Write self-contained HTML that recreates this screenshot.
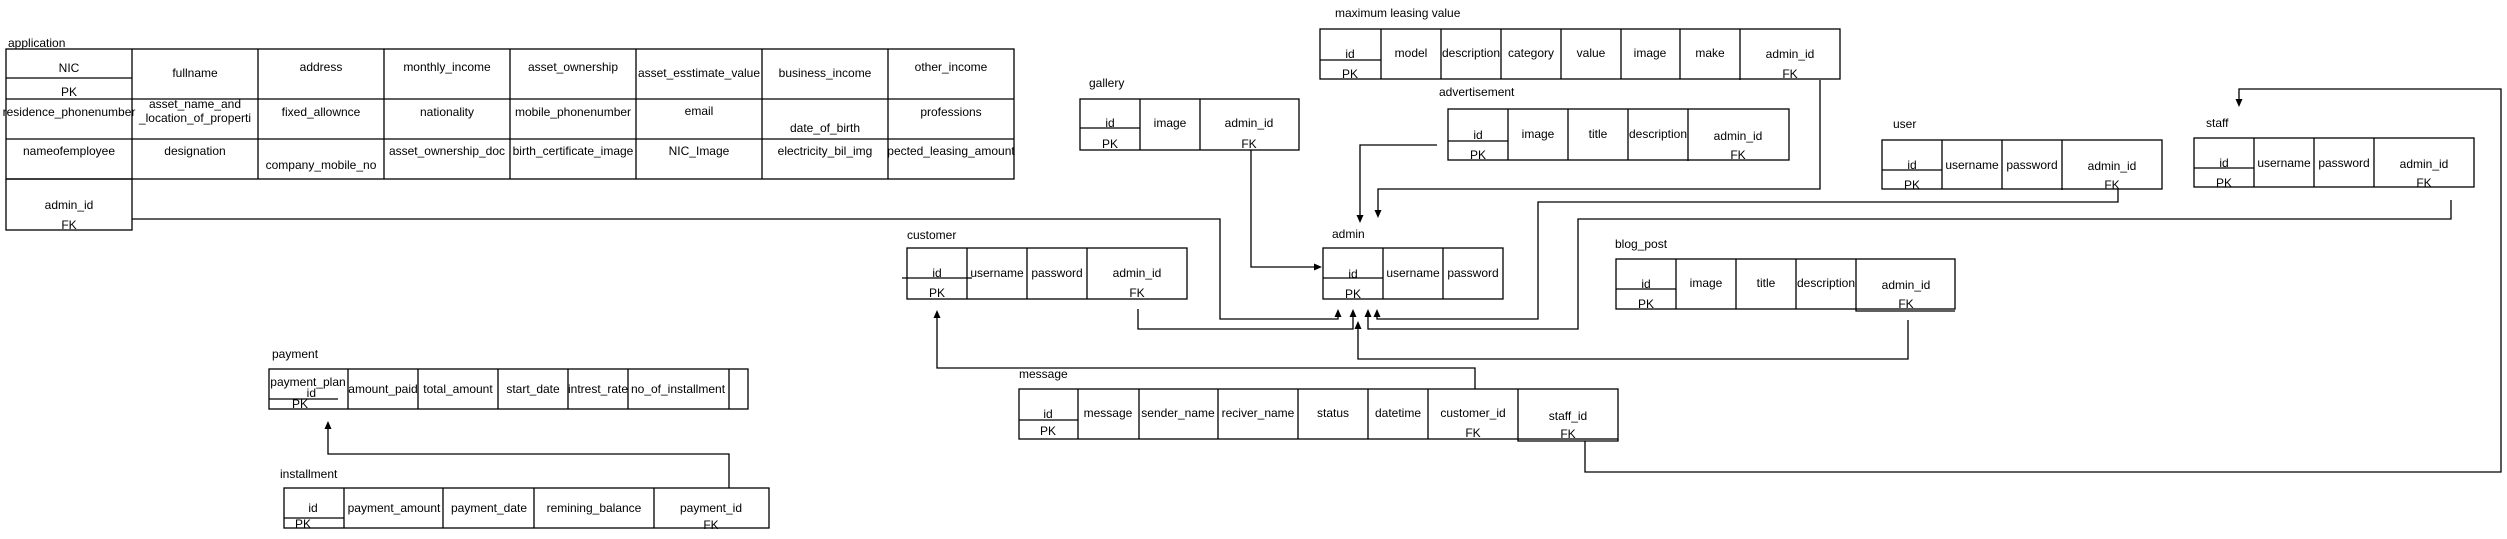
<!DOCTYPE html>
<html><head><meta charset="utf-8"><style>
html,body{margin:0;padding:0;background:#fff;}
svg{display:block;}
text{font-family:"Liberation Sans",Arial,sans-serif;font-size:12px;fill:#000;}
.c{text-anchor:middle;dominant-baseline:central;}
.l{dominant-baseline:central;}
rect,.g{fill:none;stroke:#000;stroke-width:1.3;}
.w{fill:none;stroke:#000;stroke-width:1.3;}
.a{fill:#000;stroke:none;}
</style></head><body>
<svg width="2507" height="539" viewBox="0 0 2507 539" xmlns="http://www.w3.org/2000/svg">
<!-- application -->
<text class="l" x="8" y="43">application</text>
<rect x="6" y="49" width="1008" height="130"/>
<path class="g" d="M6 99H1014M6 139H1014M132 49V179M258 49V179M384 49V179M510 49V179M636 49V179M762 49V179M888 49V179M6 78H132"/>
<rect x="6" y="179" width="126" height="51"/>
<text class="c" x="69" y="68">NIC</text><text class="c" x="69" y="92">PK</text>
<text class="c" x="195" y="73">fullname</text>
<text class="c" x="321" y="67">address</text>
<text class="c" x="447" y="67">monthly_income</text>
<text class="c" x="573" y="67">asset_ownership</text>
<text class="c" x="699" y="73">asset_esstimate_value</text>
<text class="c" x="825" y="73">business_income</text>
<text class="c" x="951" y="67">other_income</text>
<text class="c" x="69" y="112">residence_phonenumber</text>
<text class="c" x="195" y="104">asset_name_and</text><text class="c" x="195" y="118">_location_of_properti</text>
<text class="c" x="321" y="112">fixed_allownce</text>
<text class="c" x="447" y="112">nationality</text>
<text class="c" x="573" y="112">mobile_phonenumber</text>
<text class="c" x="699" y="111">email</text>
<text class="c" x="825" y="128">date_of_birth</text>
<text class="c" x="951" y="112">professions</text>
<text class="c" x="69" y="151">nameofemployee</text>
<text class="c" x="195" y="151">designation</text>
<text class="c" x="321" y="165">company_mobile_no</text>
<text class="c" x="447" y="151">asset_ownership_doc</text>
<text class="c" x="573" y="151">birth_certificate_image</text>
<text class="c" x="699" y="151">NIC_Image</text>
<text class="c" x="825" y="151">electricity_bil_img</text>
<text class="c" x="951" y="151">pected_leasing_amount</text>
<text class="c" x="69" y="205">admin_id</text><text class="c" x="69" y="225">FK</text>

<!-- maximum leasing value -->
<text class="l" x="1335" y="13">maximum leasing value</text>
<rect x="1320" y="29" width="520" height="50"/>
<path class="g" d="M1381 29V79M1441 29V79M1501 29V79M1561 29V79M1621 29V79M1680 29V79M1740 29V80M1320 60H1381"/>
<text class="c" x="1350" y="54">id</text><text class="c" x="1350" y="74">PK</text>
<text class="c" x="1411" y="53">model</text>
<text class="c" x="1471" y="53">description</text>
<text class="c" x="1531" y="53">category</text>
<text class="c" x="1591" y="53">value</text>
<text class="c" x="1650" y="53">image</text>
<text class="c" x="1710" y="53">make</text>
<text class="c" x="1790" y="54">admin_id</text><text class="c" x="1790" y="74">FK</text>

<!-- gallery -->
<text class="l" x="1089" y="83">gallery</text>
<rect x="1080" y="99" width="219" height="51"/>
<path class="g" d="M1140 99V150M1200 99V150M1080 128H1140"/>
<text class="c" x="1110" y="123">id</text><text class="c" x="1110" y="144">PK</text>
<text class="c" x="1170" y="123">image</text>
<text class="c" x="1249" y="123">admin_id</text><text class="c" x="1249" y="144">FK</text>

<!-- advertisement -->
<text class="l" x="1439" y="92">advertisement</text>
<rect x="1448" y="109" width="341" height="51"/>
<path class="g" d="M1508 109V160M1568 109V160M1628 109V160M1688 109V161M1448 141H1508"/>
<text class="c" x="1478" y="135">id</text><text class="c" x="1478" y="155">PK</text>
<text class="c" x="1538" y="134">image</text>
<text class="c" x="1598" y="134">title</text>
<text class="c" x="1658" y="134">description</text>
<text class="c" x="1738" y="136">admin_id</text><text class="c" x="1738" y="155">FK</text>

<!-- user -->
<text class="l" x="1893" y="124">user</text>
<rect x="1882" y="140" width="280" height="49"/>
<path class="g" d="M1942 140V189M2002 140V189M2062 140V190M1882 170H1942"/>
<text class="c" x="1912" y="165">id</text><text class="c" x="1912" y="185">PK</text>
<text class="c" x="1972" y="165">username</text>
<text class="c" x="2032" y="165">password</text>
<text class="c" x="2112" y="166">admin_id</text><text class="c" x="2112" y="185">FK</text>

<!-- staff -->
<text class="l" x="2206" y="123">staff</text>
<rect x="2194" y="138" width="280" height="49"/>
<path class="g" d="M2254 138V187M2314 138V187M2374 138V187M2194 168H2254"/>
<text class="c" x="2224" y="163">id</text><text class="c" x="2224" y="183">PK</text>
<text class="c" x="2284" y="163">username</text>
<text class="c" x="2344" y="163">password</text>
<text class="c" x="2424" y="164">admin_id</text><text class="c" x="2424" y="183">FK</text>

<!-- customer -->
<text class="l" x="907" y="235">customer</text>
<rect x="907" y="248" width="280" height="51"/>
<path class="g" d="M967 248V299M1027 248V299M1087 248V299M902 278H972"/>
<text class="c" x="937" y="273">id</text><text class="c" x="937" y="293">PK</text>
<text class="c" x="997" y="273">username</text>
<text class="c" x="1057" y="273">password</text>
<text class="c" x="1137" y="273">admin_id</text><text class="c" x="1137" y="293">FK</text>

<!-- admin -->
<text class="l" x="1332" y="234">admin</text>
<rect x="1323" y="248" width="180" height="51"/>
<path class="g" d="M1383 248V299M1443 248V299M1323 278H1383"/>
<text class="c" x="1353" y="274">id</text><text class="c" x="1353" y="294">PK</text>
<text class="c" x="1413" y="273">username</text>
<text class="c" x="1473" y="273">password</text>

<!-- blog_post -->
<text class="l" x="1615" y="244">blog_post</text>
<rect x="1616" y="259" width="339" height="50"/>
<path class="g" d="M1676 259V309M1736 259V309M1796 259V309M1856 259V311H1955M1616 289H1676"/>
<text class="c" x="1646" y="284">id</text><text class="c" x="1646" y="304">PK</text>
<text class="c" x="1706" y="283">image</text>
<text class="c" x="1766" y="283">title</text>
<text class="c" x="1826" y="283">description</text>
<text class="c" x="1906" y="285">admin_id</text><text class="c" x="1906" y="304">FK</text>

<!-- message -->
<text class="l" x="1019" y="374">message</text>
<rect x="1019" y="389" width="599" height="50"/>
<path class="g" d="M1078 389V439M1139 389V439M1218 389V439M1298 389V439M1368 389V439M1428 389V439M1518 389V441H1618V439M1019 420H1078"/>
<text class="c" x="1048" y="414">id</text><text class="c" x="1048" y="431">PK</text>
<text class="c" x="1108" y="413">message</text>
<text class="c" x="1178" y="413">sender_name</text>
<text class="c" x="1258" y="413">reciver_name</text>
<text class="c" x="1333" y="413">status</text>
<text class="c" x="1398" y="413">datetime</text>
<text class="c" x="1473" y="413">customer_id</text><text class="c" x="1473" y="433">FK</text>
<text class="c" x="1568" y="416">staff_id</text><text class="c" x="1568" y="434">FK</text>

<!-- payment -->
<text class="l" x="272" y="354">payment</text>
<rect x="269" y="369" width="479" height="40"/>
<path class="g" d="M348 369V409M418 369V409M498 369V409M568 369V409M628 369V409M729 369V409M269 399H338"/>
<text class="c" x="308" y="382">payment_plan</text><text class="c" x="308" y="393">_id</text><text class="c" x="300" y="404">PK</text>
<text class="c" x="383" y="389">amount_paid</text>
<text class="c" x="458" y="389">total_amount</text>
<text class="c" x="533" y="389">start_date</text>
<text class="c" x="598" y="389">intrest_rate</text>
<text class="c" x="678" y="389">no_of_installment</text>

<!-- installment -->
<text class="l" x="280" y="474">installment</text>
<rect x="284" y="488" width="485" height="40"/>
<path class="g" d="M344 488V528M443 488V528M534 488V528M654 488V528M284 518H344"/>
<text class="c" x="313" y="508">id</text><text class="c" x="303" y="524">PK</text>
<text class="c" x="394" y="508">payment_amount</text>
<text class="c" x="489" y="508">payment_date</text>
<text class="c" x="594" y="508">remining_balance</text>
<text class="c" x="711" y="508">payment_id</text><text class="c" x="711" y="525">FK</text>

<!-- connectors -->
<path class="w" d="M132 219H1220V319H1338V316"/>
<path class="a" d="M1338 309l-3.5 8h7z"/>
<path class="w" d="M1138 309V329H1353V316"/>
<path class="a" d="M1353 309l-3.5 8h7z"/>
<path class="w" d="M1908 320V359H1358V329"/>
<path class="a" d="M1358 321l-3.5 8h7z"/>
<path class="w" d="M2118 189V202H1538V319H1377V316"/>
<path class="a" d="M1377 309l-3.5 8h7z"/>
<path class="w" d="M2451 200V219H1578V329H1368V316"/>
<path class="a" d="M1368 309l-3.5 8h7z"/>
<path class="w" d="M1251 150V267H1315"/>
<path class="a" d="M1322 267l-8 -3.5v7z"/>
<path class="w" d="M1437 145H1360V216"/>
<path class="a" d="M1360 223l-3.5 -8h7z"/>
<path class="w" d="M1820 80V189H1378V211"/>
<path class="a" d="M1378 218l-3.5 -8h7z"/>
<path class="w" d="M1475 389V368H937V317"/>
<path class="a" d="M937 310l-3.5 8h7z"/>
<path class="w" d="M1585 441V472H2501V89H2239V100"/>
<path class="a" d="M2239 107l-3.5 -8h7z"/>
<path class="w" d="M729 488V454H328V428"/>
<path class="a" d="M328 421l-3.5 8h7z"/>
</svg>
</body></html>
